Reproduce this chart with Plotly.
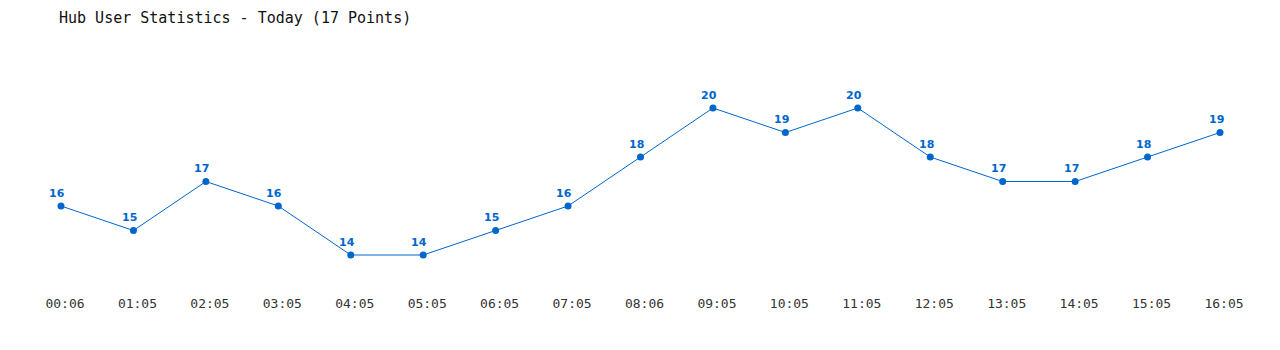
import plotly.graph_objects as go

times = ["00:06", "01:05", "02:05", "03:05", "04:05", "05:05", "06:05", "07:05", "08:06",
         "09:05", "10:05", "11:05", "12:05", "13:05", "14:05", "15:05", "16:05"]
users = [16, 15, 17, 16, 14, 14, 15, 16, 18, 20, 19, 20, 18, 17, 17, 18, 19]
title = "Hub User Statistics - Today (17 Points)"

idx = list(range(len(times)))
blue = "#0066cc"

fig = go.Figure(go.Scatter(
    x=idx, y=users, mode="lines+markers",
    line=dict(color=blue, width=1),
    marker=dict(color=blue, size=7),
    cliponaxis=False, hoverinfo="x+y",
))

for i, v in zip(idx, users):
    fig.add_annotation(x=i, y=v, text=str(v), showarrow=False, xshift=-4, yshift=13,
                       font=dict(family="DejaVu Sans", size=11, color=blue, weight="bold"))

fig.update_layout(
    width=1280, height=350,
    margin=dict(l=61, r=60, t=108, b=58),
    paper_bgcolor="white", plot_bgcolor="white",
    showlegend=False,
    title=dict(text=title, x=59 / 1280, xanchor="left", xref="container",
               y=1 - 18 / 350, yanchor="middle",
               font=dict(family="DejaVu Sans Mono", size=15, color="#111")),
    xaxis=dict(range=[0, 16], tickmode="array", tickvals=idx, ticktext=times,
               showgrid=False, zeroline=False, showline=False, ticks="",
               ticklabelshift=4, ticklabelstandoff=2,
               tickfont=dict(family="DejaVu Sans Mono", size=13, color="#333")),
    yaxis=dict(range=[20 - (292 - 108) / 24.5, 20], showgrid=False, zeroline=False,
               showline=False, showticklabels=False, ticks=""),
)

fig.write_html("out.html")
